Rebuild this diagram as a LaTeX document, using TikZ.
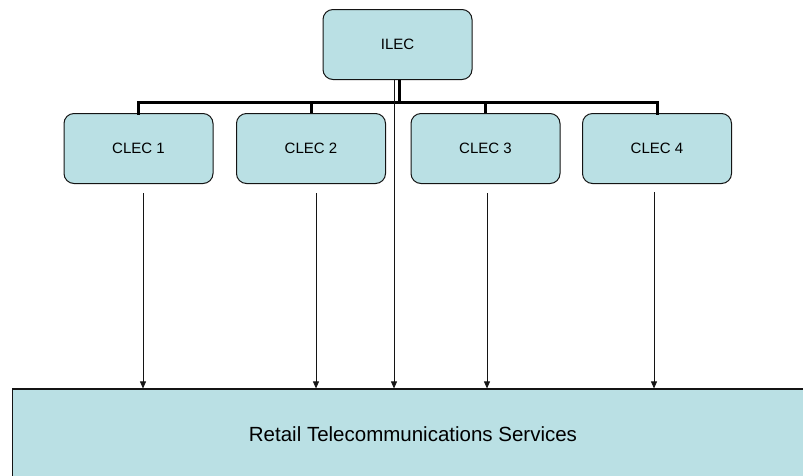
\documentclass[tikz,border=0pt]{standalone}
\usepackage{fontspec}
\setmainfont{Liberation Sans}
\usetikzlibrary{arrows.meta}
\definecolor{boxfill}{RGB}{186,224,228}
\definecolor{edge}{RGB}{20,20,20}
\begin{document}
\begin{tikzpicture}[x=1pt,y=-1pt,
  orgbox/.style={draw=edge,fill=boxfill,line width=1pt,rounded corners=10pt,
    minimum width=149pt,minimum height=70pt,inner sep=0pt,
    font=\fontsize{15}{18}\selectfont},
  retbox/.style={draw=edge,fill=boxfill,line width=1.2pt,
    minimum width=840pt,minimum height=90pt,inner sep=0pt,
    font=\fontsize{20.5}{24}\selectfont},
  bus/.style={line width=3pt,draw=black},
  arr/.style={line width=0.8pt,draw=edge,-{Triangle[length=7pt,width=6pt]}}]
\clip (0,0) rectangle (803,475);
\fill[white] (0,0) rectangle (803,475);

\node[orgbox] (ilec) at (397.5,44.5) {ILEC};
\node[orgbox] (c1) at (138.5,148.5) {CLEC 1};
\node[orgbox] (c2) at (311,148.5) {CLEC 2};
\node[orgbox] (c3) at (485.5,148.5) {CLEC 3};
\node[orgbox] (c4) at (657,148.5) {CLEC 4};
\node[retbox,anchor=west] (ret) at (12,434) {};
\node[font=\fontsize{20.5}{24}\selectfont] (rettext) at (413,434) {Retail Telecommunications Services};

\coordinate (busL) at (138.5,102);
\coordinate (busR) at (657,102);
\coordinate (busM) at (399,102);

% bus
\draw[bus] (busL) -- (busR);
\draw[bus] ([xshift=1.5pt]ilec.south) -- (busM);
\draw[bus,line cap=rect] (busL) -- (c1.north);
\draw[bus] (c2.north |- busL) -- (c2.north);
\draw[bus] (c3.north |- busL) -- (c3.north);
\draw[bus,line cap=rect] (busR) -- (c4.north);

% arrows
\coordinate (a1) at (143,193);
\coordinate (a2) at (316,193);
\coordinate (a3) at (487,193);
\coordinate (a4) at (654,192);
\coordinate (a0) at (394,79);
\draw[arr] (a1) -- (a1 |- ret.north);
\draw[arr] (a2) -- (a2 |- ret.north);
\draw[arr] (a3) -- (a3 |- ret.north);
\draw[arr] (a4) -- (a4 |- ret.north);
\draw[arr] (a0) -- (a0 |- ret.north);
\end{tikzpicture}
\end{document}
